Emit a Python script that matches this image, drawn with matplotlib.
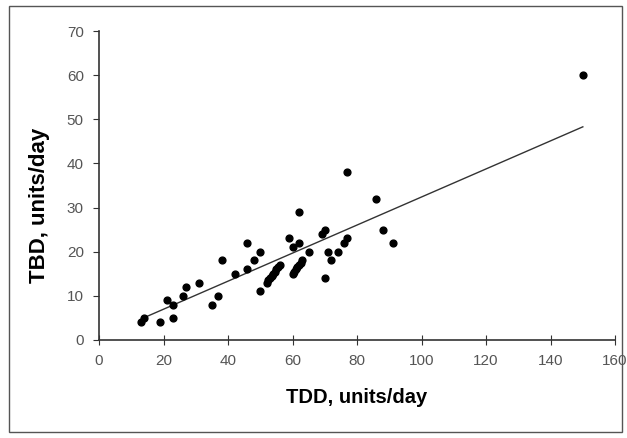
import numpy as np
import matplotlib
matplotlib.use("Agg")
import matplotlib.pyplot as plt
from matplotlib.patches import Rectangle

# TDD (x) and TBD (y), units/day
tdd = [13, 14, 19, 21, 23, 23, 26, 27, 31, 35, 37, 38, 42, 46, 46, 48, 50, 50,
       52, 52.5, 53, 53.5, 54, 54.5, 55, 55.5, 56,
       59, 60, 60, 60.5, 61, 61.5, 62, 62.5, 63, 62, 62, 65,
       69, 70, 70, 71, 72, 74, 76, 77, 77, 86, 88, 91, 150]
tbd = [4, 5, 4, 9, 8, 5, 10, 12, 13, 8, 10, 18, 15, 16, 22, 18, 20, 11,
       13, 13.5, 14, 14.5, 15, 15.5, 16, 16.5, 17,
       23, 21, 15, 15.5, 16, 16.5, 17, 17.5, 18, 22, 29, 20,
       24, 25, 14, 20, 18, 20, 22, 23, 38, 32, 25, 22, 60]

# trend line as drawn in the reference (slope, intercept)
fit_slope = 0.318
fit_intercept = 0.6

x_ticks = [0, 20, 40, 60, 80, 100, 120, 140, 160]
y_ticks = [0, 10, 20, 30, 40, 50, 60, 70]

plt.rcParams["font.family"] = ["Liberation Sans", "DejaVu Sans"]

fig = plt.figure(figsize=(6.27, 4.38), dpi=100)
ax = fig.add_axes([0.158, 0.224, 0.823, 0.705])

ax.scatter(tdd, tbd, s=24, color="black", zorder=3)

xs = np.array([14, max(tdd)])
ax.plot(xs, fit_slope * xs + fit_intercept, color="#333333", linewidth=1.0)

ax.set_xlim(0, 160)
ax.set_ylim(0, 70)
ax.set_xticks(x_ticks)
ax.set_yticks(y_ticks)
for s in ["top", "right"]:
    ax.spines[s].set_visible(False)
for s in ["left", "bottom"]:
    ax.spines[s].set_color("#333333")
    ax.spines[s].set_linewidth(1.2)
ax.tick_params(axis="x", direction="inout", length=7, colors="#333333",
               labelcolor="#555555", labelsize=11, pad=7)
ax.tick_params(axis="y", direction="out", length=4, colors="#333333",
               labelcolor="#555555", labelsize=11, pad=7)

ax.set_xlabel("TDD, units/day", fontsize=14.5, fontweight="bold", labelpad=14)
ax.set_ylabel("TBD, units/day", fontsize=16, fontweight="bold")
ax.yaxis.set_label_coords(-0.095, 0.435)

fig.patches.append(Rectangle((0.014, 0.014), 0.978, 0.972, transform=fig.transFigure,
                             fill=False, edgecolor="#555555", linewidth=1.0))

fig.savefig("out.png", dpi=100)
